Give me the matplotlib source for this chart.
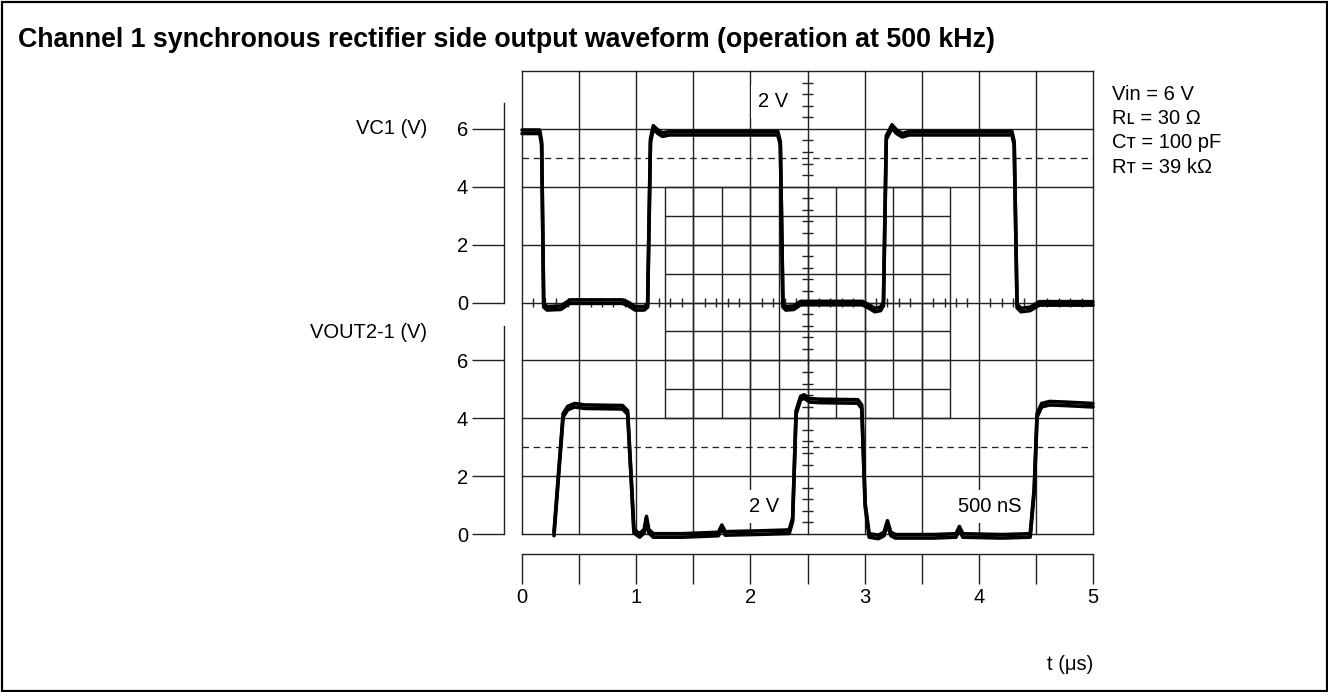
import matplotlib
matplotlib.use("Agg")
import matplotlib.pyplot as plt
import numpy as np
from matplotlib.patches import Rectangle

plt.rcParams['font.family'] = ['Liberation Sans', 'DejaVu Sans']

# Trazas del osciloscopio (t en µs, tensiones en V)
vc1_t = [0.00, 0.155, 0.172, 0.19, 0.22, 0.34, 0.42, 0.88, 0.93, 0.99, 1.07, 1.10, 1.125, 1.15,
         1.19, 1.23, 1.29, 2.24, 2.262, 2.285, 2.31, 2.38, 2.44, 2.98, 3.03, 3.09, 3.14, 3.165,
         3.19, 3.24, 3.28, 3.33, 3.39, 4.29, 4.31, 4.335, 4.37, 4.45, 4.53, 5.00]
vc1_v = [5.90, 5.90, 5.50, -0.10, -0.20, -0.18, 0.03, 0.03, -0.05, -0.20, -0.20, -0.10, 5.60, 6.05,
         5.90, 5.80, 5.85, 5.85, 5.50, -0.10, -0.20, -0.18, -0.02, -0.02, -0.12, -0.26, -0.22, -0.05,
         5.70, 6.08, 5.90, 5.78, 5.85, 5.85, 5.50, -0.12, -0.26, -0.22, -0.03, -0.03]

vout_t = [0.28, 0.36, 0.40, 0.46, 0.55, 0.88, 0.925, 0.955, 0.98, 1.03, 1.07, 1.09, 1.11, 1.15,
          1.40, 1.72, 1.75, 1.78, 2.10, 2.34, 2.37, 2.40, 2.44, 2.47, 2.52, 2.60, 2.94, 2.975,
          3.005, 3.04, 3.12, 3.17, 3.20, 3.23, 3.27, 3.60, 3.80, 3.83, 3.86, 4.20, 4.45, 4.485,
          4.51, 4.55, 4.62, 4.75, 5.00]
vout_v = [0.00, 4.10, 4.35, 4.45, 4.40, 4.38, 4.20, 2.00, 0.10, -0.05, 0.10, 0.55, 0.10, -0.05,
          -0.05, 0.00, 0.25, 0.02, 0.05, 0.08, 0.50, 4.20, 4.70, 4.75, 4.62, 4.60, 4.58, 4.40,
          1.00, -0.05, -0.10, 0.00, 0.40, 0.00, -0.08, -0.08, -0.05, 0.20, -0.05, -0.08, -0.05,
          1.50, 4.10, 4.45, 4.52, 4.50, 4.45]

# Ejes y rótulos
vc1_ticks = [0, 2, 4, 6]
vout_ticks = [0, 2, 4, 6]
t_ticks = [0, 1, 2, 3, 4, 5]
condiciones = ['Vin = 6 V', 'R\u029f = 30 \u03a9', 'C\u1d1b = 100 pF', 'R\u1d1b = 39 k\u03a9']

W, H = 1328, 692
PX = 72 / 100  # puntos por píxel
GRID = '#222222'

fig = plt.figure(figsize=(W / 100, H / 100), dpi=100)
pos = [522 / W, 1 - 534 / H, 571 / W, 463 / H]

ax1 = fig.add_axes(pos)
ax1.set_xlim(0, 5)
ax1.set_ylim(-8, 8)
ax1.patch.set_visible(False)

ax2 = fig.add_axes(pos, label='vout')
ax2.set_xlim(0, 5)
ax2.set_ylim(0, 16)
ax2.patch.set_visible(False)

# Retícula de la pantalla
lw_g = 1.4 * PX
for v in np.arange(-8, 9, 2):
    ax1.axhline(v, color=GRID, lw=lw_g, zorder=1, clip_on=False)
for t in np.arange(0, 5.01, 0.5):
    ax1.axvline(t, color=GRID, lw=lw_g, zorder=1, clip_on=False)
ax1.hlines(np.arange(-4, 4.5, 1), 1.25, 3.75, color=GRID, lw=lw_g, zorder=1)
ax1.vlines(np.arange(1.25, 3.8, 0.25), -4, 4, color=GRID, lw=lw_g, zorder=1)

# Marcas de los ejes centrales
ht = [k * 0.1 for k in range(51) if k % 5 != 0]
ax1.vlines(ht, -0.16, 0.16, color=GRID, lw=lw_g, zorder=1)
vt = [-8 + k * 0.4 for k in range(41) if k % 5 != 0]
ax1.hlines(vt, 2.5 - 0.048, 2.5 + 0.048, color=GRID, lw=lw_g, zorder=1)

# Niveles de referencia
ax1.axhline(5, color=GRID, lw=1.3 * PX, ls=(0, (5, 3.6)), zorder=1)
ax2.axhline(3, color=GRID, lw=1.3 * PX, ls=(0, (5, 3.6)), zorder=1)

# Trazas (dos pasadas para dar el grosor de la traza)
for off in (-0.06, 0.06):
    ax1.plot(vc1_t, np.array(vc1_v) + off, color='black', lw=3.6 * PX,
             solid_joinstyle='round', solid_capstyle='round', zorder=5, clip_on=False)
    ax2.plot(vout_t, np.array(vout_v) + off, color='black', lw=3.6 * PX,
             solid_joinstyle='round', solid_capstyle='round', zorder=5, clip_on=False)

# Ejes de tensión a la izquierda
fs = 14.5
for ax, ticks, top in ((ax1, vc1_ticks, 6.9), (ax2, vout_ticks, 7.2)):
    for s in ('top', 'right'):
        ax.spines[s].set_visible(False)
    ax.spines['left'].set_position(('outward', 18 * PX))
    ax.spines['left'].set_bounds(0, top)
    ax.spines['left'].set_linewidth(1.4 * PX)
    ax.spines['left'].set_color(GRID)
    ax.set_yticks(ticks)
    ax.tick_params(axis='y', direction='out', length=32 * PX, width=1.4 * PX,
                   pad=4 * PX, labelsize=fs, color=GRID)
ax2.spines['bottom'].set_visible(False)
ax2.set_xticks([])

# Eje de tiempo
ax1.spines['bottom'].set_position(('outward', 20 * PX))
ax1.spines['bottom'].set_linewidth(1.4 * PX)
ax1.spines['bottom'].set_color(GRID)
ax1.set_xticks(t_ticks)
ax1.set_xticks(np.arange(0.5, 5, 1), minor=True)
ax1.tick_params(axis='x', which='both', direction='out', length=30 * PX, width=1.4 * PX,
                pad=4 * PX, labelsize=fs, color=GRID)

# Escalas dentro de la pantalla
box = dict(facecolor='white', edgecolor='none', pad=5)
ax1.text(2.2, 6.95, '2 V', ha='center', va='center', fontsize=fs, bbox=box, zorder=3)
ax1.text(2.12, -7.05, '2 V', ha='center', va='center', fontsize=fs, bbox=box, zorder=3)
ax1.text(4.1, -7.05, '500 nS', ha='center', va='center', fontsize=fs, bbox=box, zorder=3)

# Textos de la figura
fig.text(18 / W, 1 - 40 / H,
         'Channel 1 synchronous rectifier side output waveform (operation at 500 kHz)',
         fontsize=19.3, fontweight='bold', ha='left', va='center')
fig.text(427 / W, 1 - 129 / H, 'VC1 (V)', fontsize=fs, ha='right', va='center')
fig.text(427 / W, 1 - 333 / H, 'VOUT2-1 (V)', fontsize=fs, ha='right', va='center')
fig.text(1093 / W, 1 - 665 / H, 't (\u03bcs)', fontsize=fs, ha='right', va='center')
for i, c in enumerate(condiciones):
    fig.text(1112 / W, 1 - (94 + 24.5 * i) / H, c, fontsize=fs, ha='left', va='center')

# Marco exterior
fig.patches.append(Rectangle((1.5 / W, 1.5 / H), 1 - 3 / W, 1 - 3 / H,
                             transform=fig.transFigure, fill=False,
                             edgecolor='black', lw=2.2 * PX))

fig.savefig('out.png', dpi=100)
